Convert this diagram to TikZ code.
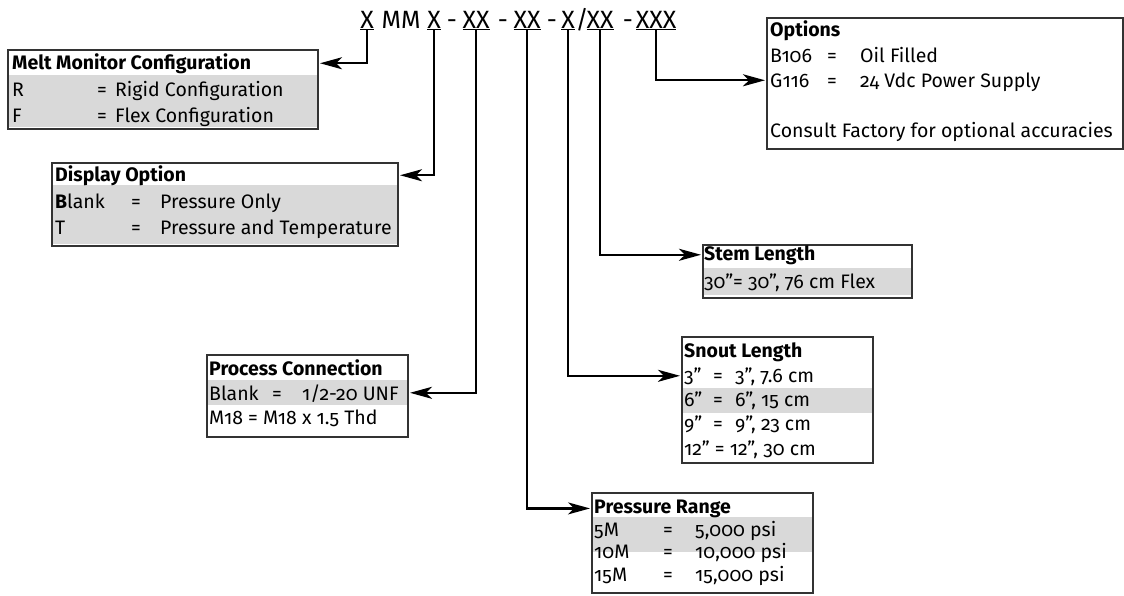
\documentclass[tikz,border=0pt]{standalone}
\usepackage{fontspec}
\setmainfont{Fira Sans}[Numbers=OldStyle]
\usetikzlibrary{arrows.meta}

\tikzset{
  box/.style={draw=black!80, line width=1.1pt, anchor=north west, inner sep=0pt, outer sep=0pt},
  txt/.style={anchor=base west, inner sep=0pt, font=\fontsize{19.5}{22}\selectfont},
  hd/.style={anchor=base west, inner sep=0pt, font=\fontsize{19.5}{22}\selectfont\bfseries},
  code/.style={anchor=base, inner sep=0pt, font=\fontsize{25}{28}\selectfont},
  band/.style={fill=black!15},
  conn/.style={line width=2.2pt, -{Stealth[length=22pt,width=12pt,inset=6pt]}, shorten >=2pt},
}

\begin{document}
\begin{tikzpicture}[x=1pt,y=-1pt]
\useasboundingbox (0,0) rectangle (1124,595);

% model code
\node[code] (hCfg) at (367,28) {\underline{X}};
\node[code] (hMM) at (401,28) {MM};
\node[code] (hDsp) at (434,28) {\underline{X}};
\node[code] (hDa) at (452,28) {-};
\node[code] (hPrc) at (476,28) {\underline{XX}};
\node[code] (hDb) at (503,28) {-};
\node[code] (hPrs) at (527,28) {\underline{XX}};
\node[code] (hDc) at (552,28) {-};
\node[code] (hSnt) at (568,28) {\underline{X}};
\node[code] (hSl) at (582,28) {/};
\node[code] (hStm) at (600,28) {\underline{XX}};
\node[code] (hDd) at (628,28) {-};
\node[code] (hOpt) at (656,28) {\underline{XXX}};

% melt monitor configuration
\fill[band] (8,75) rectangle (318,127);
\node[box, minimum width=310pt, minimum height=79pt] (cfg) at (8,50) {};
\node[hd] (cfgT) at (12,69) {Melt Monitor Configuration};
\node[txt] (cfgR) at (12,96) {R};
\node[txt] (cfgRq) at (97,96) {=};
\node[txt] (cfgRv) at (115,96) {Rigid Configuration};
\node[txt] (cfgF) at (12,122) {F};
\node[txt] (cfgFq) at (97,122) {=};
\node[txt] (cfgFv) at (115,122) {Flex Configuration};

% display option
\fill[band] (52,185) rectangle (398,244);
\node[box, minimum width=346pt, minimum height=83pt] (dsp) at (52,163) {};
\node[hd] (dspT) at (55,181) {Display Option};
\node[txt] (dspB) at (55,208) {\textbf{B}lank};
\node[txt] (dspBq) at (131,208) {=};
\node[txt] (dspBv) at (160,208) {Pressure Only};
\node[txt] (dspT2) at (55,234) {T};
\node[txt] (dspTq) at (131,234) {=};
\node[txt] (dspTv) at (160,234) {Pressure and Temperature};

% options
\node[box, minimum width=356pt, minimum height=131pt] (opt) at (767,18) {};
\node[hd] (optT) at (770,36) {Options};
\node[txt] (optA) at (770,62) {B106};
\node[txt] (optAq) at (827,62) {=};
\node[txt] (optAv) at (860,62) {Oil Filled};
\node[txt] (optB) at (770,87) {G116};
\node[txt] (optBq) at (827,87) {=};
\node[txt] (optBv) at (860,87) {24 Vdc Power Supply};
\node[txt] (optC) at (770,137) {Consult Factory for optional accuracies};

% stem length
\fill[band] (703,268) rectangle (912,295);
\node[box, minimum width=209pt, minimum height=53pt] (stm) at (703,245) {};
\node[hd] (stmT) at (704,260) {Stem Length};
\node[txt] (stmA) at (704,288) {30”= 30”, 76 cm Flex};

% process connection
\fill[band] (207,380) rectangle (408,405);
\node[box, minimum width=201pt, minimum height=82pt] (prc) at (207,355) {};
\node[hd] (prcT) at (209,375) {Process Connection};
\node[txt] (prcA) at (209,400) {Blank};
\node[txt] (prcAq) at (272,400) {=};
\node[txt] (prcAv) at (302,400) {1/2-20 UNF};
\node[txt] (prcB) at (209,424) {M18 = M18 x 1.5 Thd};

% snout length
\fill[band] (682,388) rectangle (873,413);
\node[box, minimum width=191pt, minimum height=126pt] (snt) at (682,337) {};
\node[hd] (sntT) at (684,357) {Snout Length};
\node[txt] (sntA) at (684,382) {3”};
\node[txt] (sntAq) at (713,382) {=};
\node[txt] (sntAv) at (735,382) {3”, 7.6 cm};
\node[txt] (sntB) at (684,406) {6”};
\node[txt] (sntBq) at (713,406) {=};
\node[txt] (sntBv) at (735,406) {6”, 15 cm};
\node[txt] (sntC) at (684,430) {9”};
\node[txt] (sntCq) at (713,430) {=};
\node[txt] (sntCv) at (735,430) {9”, 23 cm};
\node[txt] (sntD) at (684,455) {12” = 12”, 30 cm};

% pressure range
\fill[band] (592,517) rectangle (813,552);
\node[box, minimum width=221pt, minimum height=100pt] (prs) at (592,493) {};
\node[hd] (prsT) at (594,513) {Pressure Range};
\node[txt] (prsA) at (594,536) {5M};
\node[txt] (prsAq) at (663,536) {=};
\node[txt] (prsAv) at (695,536) {5,000 psi};
\node[txt] (prsB) at (594,558) {10M};
\node[txt] (prsBq) at (663,558) {=};
\node[txt] (prsBv) at (695,558) {10,000 psi};
\node[txt] (prsC) at (594,581) {15M};
\node[txt] (prsCq) at (663,581) {=};
\node[txt] (prsCv) at (695,581) {15,000 psi};

% connectors
\draw[conn] (hCfg.south) |- (cfgT.east -| cfg.east);
\draw[conn] (hDsp.south) |- (dspT.east -| dsp.east);
\draw[conn] (hPrc.south) |- (prcA.east -| prc.east);
\draw[conn] (hPrs.south) |- (prsT.west -| prs.west);
\draw[conn] (hSnt.south) |- (sntA.west -| snt.west);
\draw[conn] (hStm.south) |- (stmT.west -| stm.west);
\draw[conn] (hOpt.south) |- (optB.west -| opt.west);
\end{tikzpicture}
\end{document}
